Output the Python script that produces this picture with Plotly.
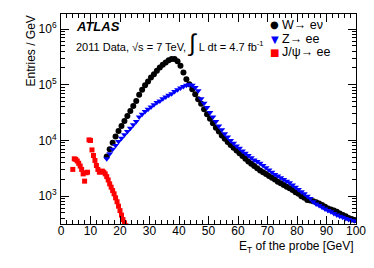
import numpy as np
import plotly.graph_objects as go

# ---- data (bin centres in GeV, entries / GeV) ----
et_wz = list(np.arange(15.5, 100.0, 1.0))

w_entries = [5130, 6920, 9120, 11750, 14790, 18200, 22390, 27540, 33880, 41690,
             51290, 66070, 81280, 97720, 114800, 134900, 154900, 177800, 204200, 229100,
             251200, 275400, 288400, 288400, 263000,
             218800, 166000, 125900, 102300, 83180, 67610, 54950, 45710, 36310, 29510,
             24550, 20420, 16980, 14450, 12300, 10720, 9330, 8320, 7410, 6610,
             5890, 5250, 4680, 4170, 3800, 3470, 3160, 2880, 2690, 2510,
             2290, 2140, 2000, 1820, 1700, 1580, 1480, 1380, 1290, 1170,
             1100, 1000, 933, 851, 832, 813, 776, 741, 692, 646,
             603, 575, 550, 525, 490, 457, 437, 407, 389, 372]

z_entries = [4680, 5750, 6920, 8130, 9550, 10960, 12590, 14450, 16600, 19050,
             21880, 26300, 29510, 33110, 36310, 39810, 43650, 47860, 51290, 56230,
             60260, 64570, 69180, 75860, 81280, 87100, 93300, 97700, 100000, 97700,
             89130, 77620, 56230, 46770, 38900, 31620, 26300, 21880, 18200, 15490,
             13180, 11480, 10000, 8910, 7940, 7240, 6460, 5890, 5370, 4900,
             4470, 4170, 3890, 3550, 3240, 2950, 2690, 2450, 2290, 2140,
             2000, 1860, 1740, 1580, 1450, 1320, 1200, 1100, 1000, 912,
             794, 724, 676, 631, 589, 550, 525, 490, 457, 437,
             417, 398, 380, 372, 363]

et_jpsi = [4.0, 4.5, 5.0, 5.5, 6.0, 6.5, 7.0, 7.5, 8.0, 8.5, 9.0, 9.5, 10.0, 10.5,
           11.0, 11.5, 12.0, 12.5, 13.0, 13.5, 14.0, 14.5, 15.0, 15.5, 16.0, 16.5,
           17.0, 17.5, 18.0, 18.5, 19.0, 19.5, 20.0, 20.5, 21.0, 21.5, 22.0]
jpsi_entries = [3020, 4680, 4570, 4270, 3890, 3470, 3020, 2510, 1860, 2630, 2690,
                10230, 10000, 6760, 5370, 4370, 3550, 3020, 2690, 2750, 2820, 2690,
                2510, 2240, 1950, 1660, 1450, 1260, 1100, 933, 794, 661, 550, 457,
                380, 331, 295]

series_names = ["W\u2192 e\u03bd", "Z\u2192 ee", "J/\u03c8\u2192 ee"]
series_colors = ["black", "#0000ff", "#ff0000"]
legend_glyphs = ["\u25cf", "\u25bc", "\u25a0"]

y_major = [1e3, 1e4, 1e5, 1e6]
y_major_text = ["10<sup>3</sup>", "10<sup>4</sup>", "10<sup>5</sup>", "10<sup>6</sup>"]
y_minor = [m * 10 ** e for e in range(2, 7) for m in range(2, 10)]

FONT = "Liberation Sans, Arial, Helvetica, sans-serif"

fig = go.Figure()
fig.add_trace(go.Scatter(x=et_wz, y=w_entries, mode="markers", name=series_names[0],
                         marker=dict(symbol="circle", size=6, color=series_colors[0])))
fig.add_trace(go.Scatter(x=et_wz, y=z_entries, mode="markers", name=series_names[1],
                         marker=dict(symbol="triangle-down", size=6, color=series_colors[1])))
fig.add_trace(go.Scatter(x=et_jpsi, y=jpsi_entries, mode="markers", name=series_names[2],
                         marker=dict(symbol="square", size=5, color=series_colors[2])))

# the page body adds an 8px offset, so the figure is 8px smaller and margins shifted
fig.update_layout(
    template="none",
    width=366, height=260,
    margin=dict(l=53, r=18, t=6, b=44, pad=0),
    paper_bgcolor="white", plot_bgcolor="white",
    font=dict(family=FONT, size=12, color="black"),
    showlegend=False,
    xaxis=dict(range=[0, 100], showline=True, linecolor="black", linewidth=1,
               mirror="allticks", ticks="inside", ticklen=8, tickcolor="black",
               dtick=10, tick0=0, showgrid=False, zeroline=False, automargin=False,
               tickfont=dict(size=12), ticklabelstandoff=-4,
               minor=dict(ticks="inside", ticklen=4, dtick=2, tickcolor="black",
                          showgrid=False)),
    yaxis=dict(type="log", range=[2.5, 6.27], showline=True, linecolor="black",
               linewidth=1, mirror="allticks", ticks="inside", ticklen=8,
               tickcolor="black", tickvals=y_major, ticktext=y_major_text,
               showgrid=False, zeroline=False, automargin=False, tickfont=dict(size=12),
               ticklabelstandoff=1,
               minor=dict(ticks="inside", ticklen=4, tickvals=y_minor,
                          tickcolor="black", showgrid=False)),
)

# legend drawn as text rows (tight ROOT-style spacing)
legend_y = [0.948, 0.880, 0.818]
for name, col, glyph, ly in zip(series_names, series_colors, legend_glyphs, legend_y):
    fig.add_annotation(xref="paper", yref="paper", x=0.725, y=ly, xanchor="center",
                       yanchor="middle", showarrow=False, text=glyph,
                       font=dict(size=10, color=col, family="DejaVu Sans"))
    fig.add_annotation(xref="paper", yref="paper", x=0.741, y=ly, xanchor="left",
                       yanchor="middle", showarrow=False, text=name,
                       font=dict(size=12.5, color="black"))

fig.add_annotation(xref="paper", yref="paper", x=0.045, y=0.94, xanchor="left",
                   yanchor="middle", showarrow=False,
                   text="<b><i>ATLAS</i></b>", font=dict(size=13))
fig.add_annotation(xref="paper", yref="paper", x=0.045, y=0.862, xanchor="left",
                   yanchor="middle", showarrow=False,
                   text="2011 Data, \u221as = 7 TeV, <span style='font-size:24px'>\u222b</span> L dt = 4.7 fb<sup>-1</sup>",
                   font=dict(size=11))
fig.add_annotation(xref="paper", yref="paper", x=-0.105, y=1.0, xanchor="center",
                   yanchor="top", showarrow=False, textangle=-90,
                   text="Entries / GeV", font=dict(size=12))
fig.add_annotation(xref="paper", yref="paper", x=1.0, y=-0.11, xanchor="right",
                   yanchor="middle", showarrow=False,
                   text="E<sub>T</sub> of the probe [GeV]", font=dict(size=12))

fig.write_html("out.html")
